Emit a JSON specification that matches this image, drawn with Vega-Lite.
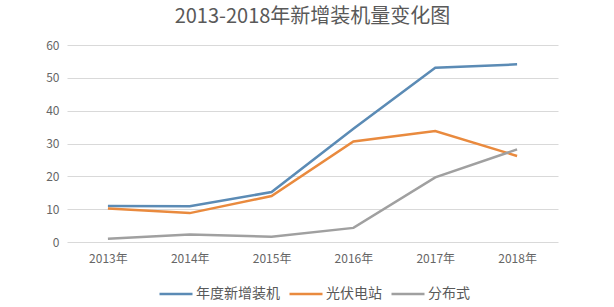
{
  "$schema": "https://vega.github.io/schema/vega-lite/v6.json",
  "width": 491,
  "height": 197,
  "autosize": "none",
  "padding": {"left": 67, "top": 45, "right": 56, "bottom": 65},
  "background": "white",
  "title": {
    "text": "2013-2018年新增装机量变化图",
    "fontSize": 20,
    "font": "Noto Sans CJK SC",
    "fontWeight": "normal",
    "color": "#595959",
    "anchor": "middle",
    "offset": 12
  },
  "data": {
    "values": [
      {"year": "2013年", "series": "年度新增装机", "value": 11.0},
      {"year": "2014年", "series": "年度新增装机", "value": 10.9},
      {"year": "2015年", "series": "年度新增装机", "value": 15.2},
      {"year": "2016年", "series": "年度新增装机", "value": 34.5},
      {"year": "2017年", "series": "年度新增装机", "value": 53.1},
      {"year": "2018年", "series": "年度新增装机", "value": 54.1},
      {"year": "2013年", "series": "光伏电站", "value": 10.2},
      {"year": "2014年", "series": "光伏电站", "value": 8.8},
      {"year": "2015年", "series": "光伏电站", "value": 14.0},
      {"year": "2016年", "series": "光伏电站", "value": 30.6},
      {"year": "2017年", "series": "光伏电站", "value": 33.8},
      {"year": "2018年", "series": "光伏电站", "value": 26.2},
      {"year": "2013年", "series": "分布式", "value": 1.0},
      {"year": "2014年", "series": "分布式", "value": 2.3},
      {"year": "2015年", "series": "分布式", "value": 1.6},
      {"year": "2016年", "series": "分布式", "value": 4.3},
      {"year": "2017年", "series": "分布式", "value": 19.7},
      {"year": "2018年", "series": "分布式", "value": 28.2}
    ]
  },
  "mark": {"type": "line", "strokeWidth": 2.5},
  "encoding": {
    "x": {
      "field": "year",
      "type": "ordinal",
      "sort": null,
      "scale": {"padding": 0.5},
      "axis": {
        "title": null,
        "labelAngle": 0,
        "domain": false,
        "ticks": false,
        "grid": false,
        "labelPadding": 11,
        "labelFontSize": 12,
        "labelColor": "#666666",
        "labelFont": "Noto Sans CJK SC"
      }
    },
    "y": {
      "field": "value",
      "type": "quantitative",
      "scale": {"domain": [0, 60], "nice": false},
      "axis": {
        "title": null,
        "values": [0, 10, 20, 30, 40, 50, 60],
        "domain": false,
        "ticks": false,
        "grid": true,
        "gridColor": "#d9d9d9",
        "gridWidth": 1,
        "labelPadding": 8,
        "labelFontSize": 12,
        "labelColor": "#666666",
        "labelFont": "Noto Sans CJK SC"
      }
    },
    "color": {
      "field": "series",
      "type": "nominal",
      "sort": ["年度新增装机", "光伏电站", "分布式"],
      "scale": {
        "domain": ["年度新增装机", "光伏电站", "分布式"],
        "range": ["#5B8BB5", "#E98A3E", "#A0A0A0"]
      },
      "legend": {
        "title": null,
        "orient": "none",
        "direction": "horizontal",
        "legendX": 91,
        "legendY": 231,
        "symbolType": "stroke",
        "symbolSize": 1089,
        "symbolStrokeWidth": 2.5,
        "labelOffset": 2,
        "columnPadding": 4,
        "labelFontSize": 14,
        "labelColor": "#595959",
        "labelFont": "Noto Sans CJK SC"
      }
    }
  },
  "config": {"view": {"stroke": null}}
}
